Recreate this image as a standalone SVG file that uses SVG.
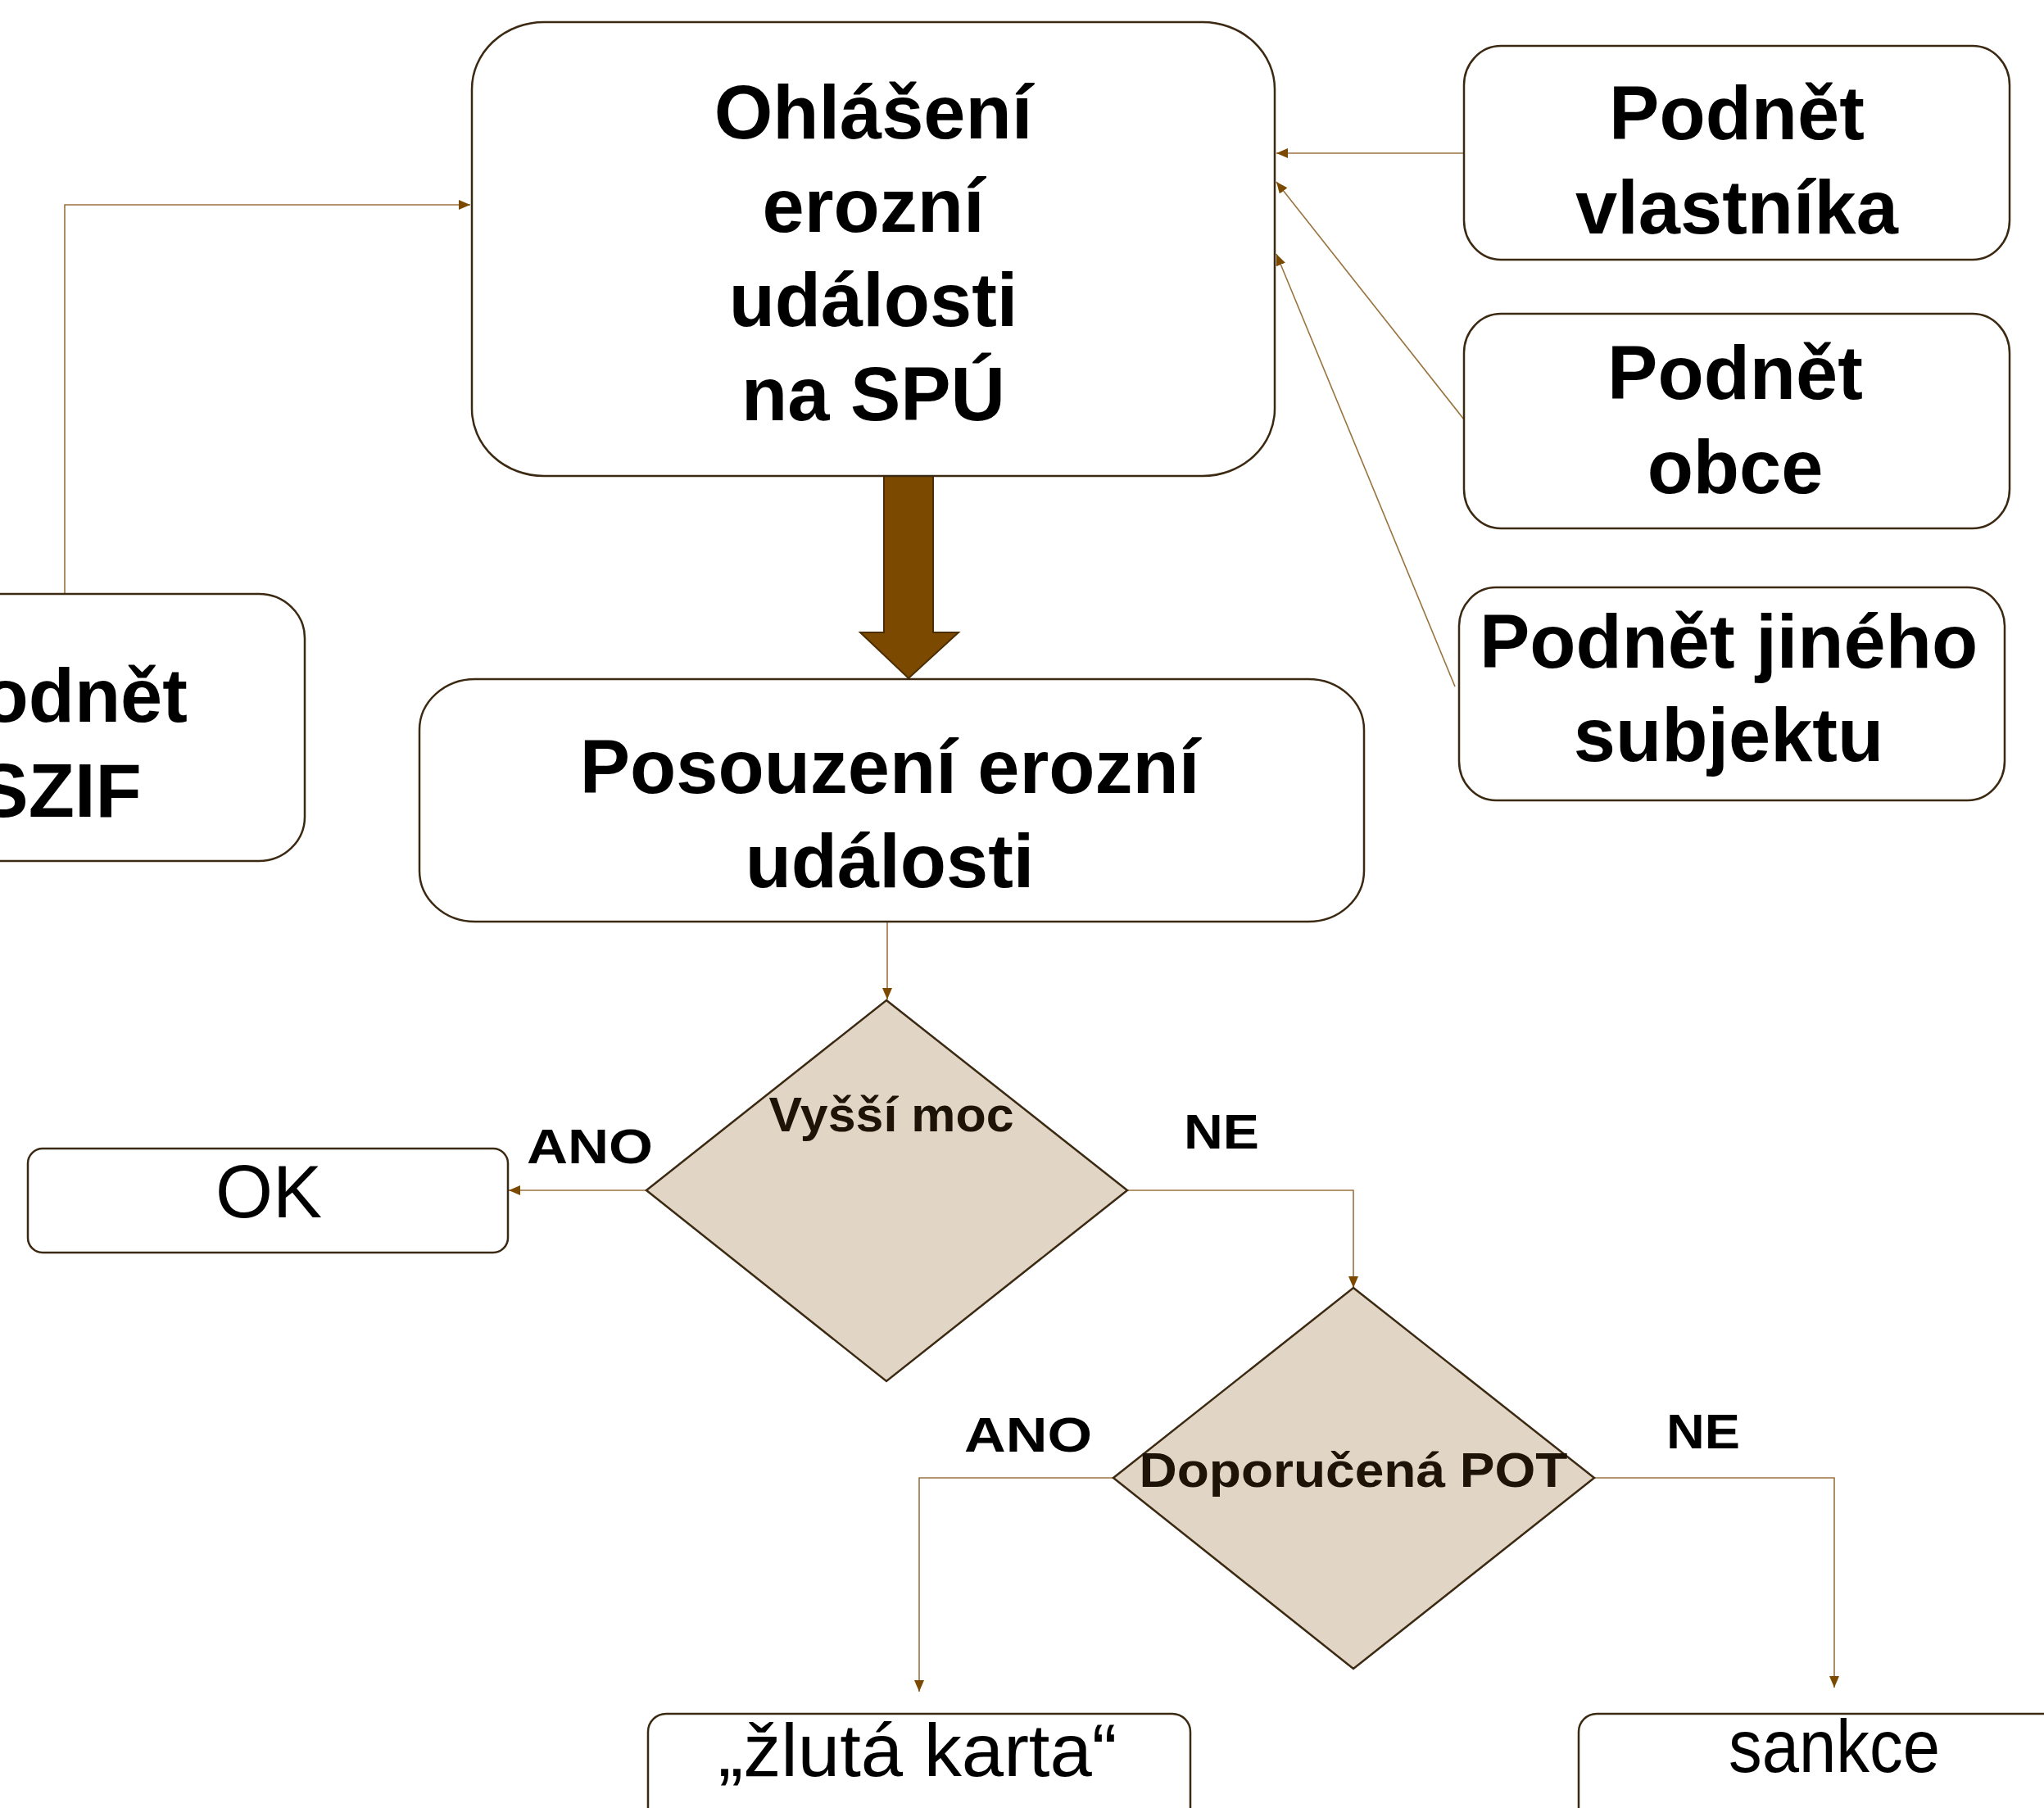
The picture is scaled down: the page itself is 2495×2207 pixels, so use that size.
<svg xmlns="http://www.w3.org/2000/svg" width="2495" height="2207" viewBox="0 0 2495 2207">
<style>
.box{fill:#fff;stroke:#3b2912;stroke-width:2.5}
.dia{fill:#e1d5c5;stroke:#3b2912;stroke-width:2.5}
.t{font-family:"Liberation Sans",Arial,sans-serif;font-weight:bold;font-size:92px;fill:#000;text-anchor:middle}
.dt{font-family:"Liberation Sans",Arial,sans-serif;font-weight:bold;font-size:60px;fill:#1e1307;text-anchor:middle}
.lbl{font-family:"Liberation Sans",Arial,sans-serif;font-weight:bold;font-size:60px;fill:#000}
.r{font-family:"Liberation Sans",Arial,sans-serif;font-size:90px;fill:#000;text-anchor:middle}
.c{fill:none;stroke:#9a733f;stroke-width:1.6}
</style>
<defs>
<marker id="ah" markerUnits="userSpaceOnUse" markerWidth="16" markerHeight="12" refX="14" refY="6" orient="auto"><path d="M0,0 L14,6 L0,12 z" fill="#7b4a00"/></marker>
</defs>
<rect width="2495" height="2207" fill="#fff"/>
<g id="connectors">
<path class="c" d="M79,725 V250 H574" marker-end="url(#ah)"/>
<path class="c" d="M1787,187 H1558" marker-end="url(#ah)"/>
<path class="c" d="M1787,512 L1558,222" marker-end="url(#ah)"/>
<path class="c" d="M1776,838 L1558,310" marker-end="url(#ah)"/>
<path class="c" d="M1083,1125 V1220" marker-end="url(#ah)"/>
<path class="c" d="M789,1453 H621" marker-end="url(#ah)"/>
<path class="c" d="M1376,1453 H1652 V1572" marker-end="url(#ah)"/>
<path class="c" d="M1359,1804 H1122 V2065" marker-end="url(#ah)"/>
<path class="c" d="M1946,1804 H2239 V2060" marker-end="url(#ah)"/>
<polygon id="big-arrow" points="1079,581 1139,581 1139,772 1170,772 1109,828 1050,772 1079,772" fill="#7b4a00" stroke="#4a2d00" stroke-width="2"/>
<text class="lbl" x="643" y="1420" textLength="154" lengthAdjust="spacingAndGlyphs">ANO</text>
<text class="lbl" x="1445" y="1402" textLength="92" lengthAdjust="spacingAndGlyphs">NE</text>
<text class="lbl" x="1177" y="1772" textLength="156" lengthAdjust="spacingAndGlyphs">ANO</text>
<text class="lbl" x="2034" y="1768" textLength="90" lengthAdjust="spacingAndGlyphs">NE</text>
</g>
<g id="ohlaseni">
<rect class="box" x="576" y="27" width="980" height="554" rx="88" ry="82"/>
<text class="t" x="1066" y="169">Ohlášení</text>
<text class="t" x="1066" y="283">erozní</text>
<text class="t" x="1066" y="398">události</text>
<text class="t" x="1066" y="513">na SPÚ</text>
</g>
<g id="podnet-vlastnika">
<rect class="box" x="1787" y="56" width="666" height="261" rx="45" ry="48"/>
<text class="t" x="2120" y="170">Podnět</text>
<text class="t" x="2120" y="285">vlastníka</text>
</g>
<g id="podnet-obce">
<rect class="box" x="1787" y="383" width="666" height="262" rx="45" ry="48"/>
<text class="t" x="2118" y="487">Podnět</text>
<text class="t" x="2118" y="602">obce</text>
</g>
<g id="podnet-jineho">
<rect class="box" x="1781" y="717" width="666" height="260" rx="45" ry="48"/>
<text class="t" x="2110" y="815">Podnět jiného</text>
<text class="t" x="2110" y="929">subjektu</text>
</g>
<g id="podnet-szif">
<rect class="box" x="-226" y="725" width="598" height="326" rx="56" ry="54"/>
<text class="t" x="73" y="881">Podnět</text>
<text class="t" x="73" y="997">SZIF</text>
</g>
<g id="posouzeni">
<rect class="box" x="512" y="829" width="1153" height="296" rx="68" ry="62"/>
<text class="t" x="1086" y="968">Posouzení erozní</text>
<text class="t" x="1086" y="1083">události</text>
</g>
<g id="vyssi-moc">
<polygon class="dia" points="1082,1221 1376,1453 1082,1686 789,1453"/>
<text class="dt" x="1088" y="1381" textLength="299" lengthAdjust="spacingAndGlyphs">Vyšší moc</text>
</g>
<g id="ok">
<rect class="box" x="34" y="1402" width="586" height="127" rx="18" ry="18"/>
<text class="r" x="328" y="1486">OK</text>
</g>
<g id="doporucena-pot">
<polygon class="dia" points="1652,1572 1946,1804 1652,2037 1359,1804"/>
<text class="dt" x="1652" y="1815" textLength="523" lengthAdjust="spacingAndGlyphs">Doporučená POT</text>
</g>
<g id="zluta-karta">
<rect class="box" x="791" y="2092" width="662" height="160" rx="22" ry="22"/>
<text class="r" x="1120" y="2168" textLength="487" lengthAdjust="spacingAndGlyphs">„žlutá karta“</text>
</g>
<g id="sankce">
<rect class="box" x="1927" y="2092" width="626" height="160" rx="22" ry="22"/>
<text class="r" x="2239" y="2163" font-size="86" textLength="258" lengthAdjust="spacingAndGlyphs">sankce</text>
</g>
</svg>
